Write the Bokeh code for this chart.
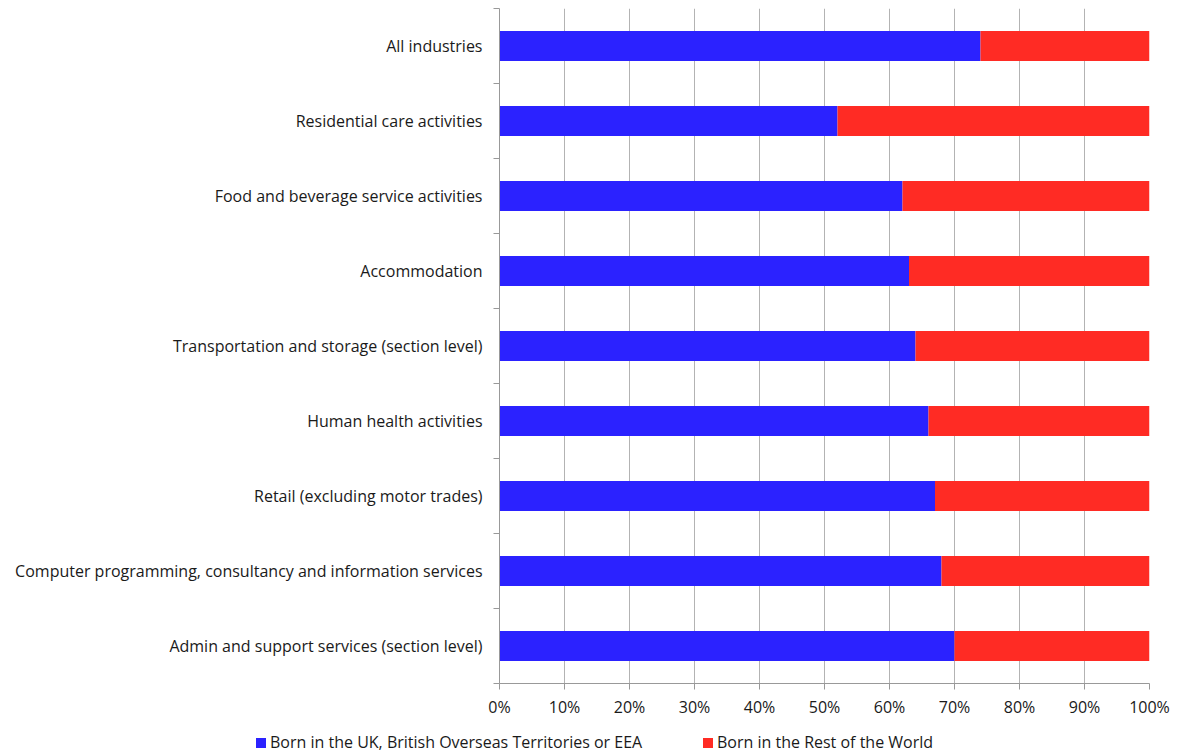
from bokeh.plotting import figure
from bokeh.layouts import column
from bokeh.models import Range1d, FixedTicker, ColumnDataSource, Div
from bokeh.embed import file_html
from bokeh.resources import INLINE

categories = [
    "All industries",
    "Residential care activities",
    "Food and beverage service activities",
    "Accommodation",
    "Transportation and storage (section level)",
    "Human health activities",
    "Retail (excluding motor trades)",
    "Computer programming, consultancy and information services",
    "Admin and support services (section level)",
]
uk_eea = [74, 52, 62, 63, 64, 66, 67, 68, 70]
rest_of_world = [26, 48, 38, 37, 36, 34, 33, 32, 30]
series_names = ["Born in the UK, British Overseas Territories or EEA",
                "Born in the Rest of the World"]
x_ticks = [0, 10, 20, 30, 40, 50, 60, 70, 80, 90, 100]
x_tick_labels = ["0%", "10%", "20%", "30%", "40%", "50%", "60%", "70%", "80%", "90%", "100%"]

colors = ["#2B22FF", "#FF2B24"]
FONT = "Open Sans"
TXT = "#1a1a1a"
AX = "#999999"

ys = list(range(len(categories)))
src = ColumnDataSource(dict(
    y=ys,
    uk=uk_eea,
    row=rest_of_world,
    total=[a + b for a, b in zip(uk_eea, rest_of_world)],
))

p = figure(width=1177, height=722, output_backend="svg", toolbar_location=None,
           x_range=Range1d(0, 100), y_range=Range1d(len(categories) - 0.5, -0.5),
           min_border_left=499, min_border_right=28, min_border_top=8, min_border_bottom=39)
p.outline_line_color = None
p.background_fill_color = "white"
p.border_fill_color = "white"

r1 = p.hbar(y="y", left=0, right="uk", height=0.4, source=src,
            fill_color=colors[0], line_color=None)
r2 = p.hbar(y="y", left="uk", right="total", height=0.4, source=src,
            fill_color=colors[1], line_color=None)

# x axis
p.xaxis.ticker = FixedTicker(ticks=x_ticks, minor_ticks=[])
p.xaxis.major_label_overrides = {t: l for t, l in zip(x_ticks, x_tick_labels)}
p.xaxis.axis_line_color = AX
p.xaxis.major_tick_line_color = AX
p.xaxis.major_tick_out = 6
p.xaxis.major_tick_in = 0
p.xaxis.minor_tick_line_color = None
p.xaxis.major_label_standoff = 6
p.xaxis.major_label_text_font = FONT
p.xaxis.major_label_text_font_size = "16px"
p.xaxis.major_label_text_color = TXT

# y axis
p.yaxis.ticker = FixedTicker(ticks=ys, minor_ticks=[i - 0.5 for i in range(len(categories) + 1)])
p.yaxis.major_label_overrides = {i: c for i, c in enumerate(categories)}
p.yaxis.axis_line_color = AX
p.yaxis.major_tick_line_color = None
p.yaxis.major_tick_out = 0
p.yaxis.major_tick_in = 0
p.yaxis.minor_tick_line_color = AX
p.yaxis.minor_tick_out = 6
p.yaxis.minor_tick_in = 0
p.yaxis.major_label_standoff = 11
p.yaxis.major_label_text_font = FONT
p.yaxis.major_label_text_font_size = "16px"
p.yaxis.major_label_text_color = TXT

# grid
p.xgrid.ticker = FixedTicker(ticks=x_ticks[1:])
p.xgrid.grid_line_color = "#b3b3b3"
p.xgrid.grid_line_width = 1
p.ygrid.grid_line_color = None

# legend strip below the chart
item_left = [256, 703]
items_html = ""
for name, col, left in zip(series_names, colors, item_left):
    items_html += (
        f'<span style="position:absolute;left:{left}px;top:16px;width:10px;height:10px;'
        f'background:{col};"></span>'
        f'<span style="position:absolute;left:{left + 14}px;top:9px;line-height:22px;'
        f'white-space:nowrap;font-family:\'{FONT}\';font-size:16px;color:{TXT};">{name}</span>'
    )
legend_div = Div(
    text=f'<div style="position:relative;width:1177px;height:31px;margin:0;padding:0;">{items_html}</div>',
    width=1177, height=31, margin=(0, 0, 0, 0),
)

layout = column(p, legend_div, spacing=0)
open("out.html", "w").write(file_html(layout, INLINE))
